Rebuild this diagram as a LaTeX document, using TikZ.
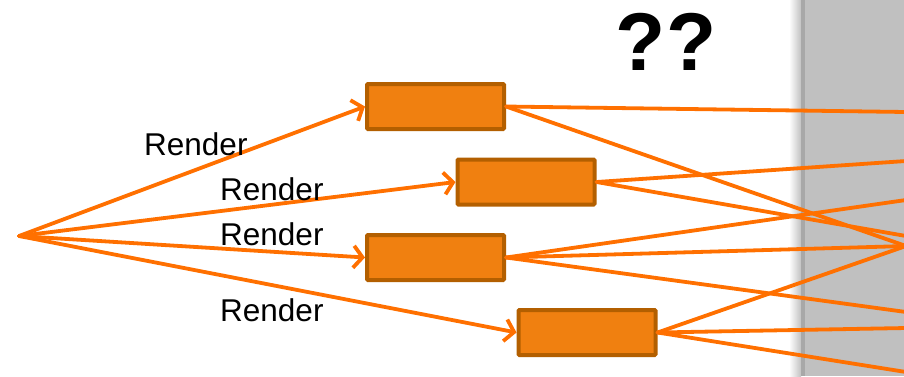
\documentclass[tikz,border=0pt]{standalone}
\usepackage{fontspec}
\setmainfont{Liberation Sans}
\usetikzlibrary{arrows.meta}
\definecolor{boxfill}{HTML}{F08010}
\definecolor{boxedge}{HTML}{B35F00}
\definecolor{flow}{HTML}{FF7000}
\definecolor{panel}{HTML}{C0C0C0}
\definecolor{panelrim}{HTML}{A8A8A8}
\tikzset{
  job/.style={rectangle, draw=boxedge, fill=boxfill, line width=4pt,
    minimum width=137pt, minimum height=45pt, inner sep=0pt, rounded corners=1pt},
  flowline/.style={draw=flow, line width=3.8pt, line cap=round},
  renderarrow/.style={flowline, -{Straight Barb[length=9pt,width=22pt,line width=3.8pt]}},
  lbl/.style={font=\fontsize{31.5}{36}\selectfont, inner sep=0pt, anchor=base west},
}
\begin{document}
\begin{tikzpicture}[x=1pt, y=-1pt]
  \useasboundingbox (0,0) rectangle (904,376);
  % grey panel on the right, with a soft shadow along its left edge
  \shade[left color=white, right color=panelrim!70] (789,0) rectangle (801,376);
  \fill[panelrim] (801,0) rectangle (805,376);
  \fill[panel] (805,0) rectangle (904,376);

  % source point and jobs
  \coordinate (src) at (19,236);
  \node[job] (j1) at (435.5,106.5) {};
  \node[job] (j2) at (526,182) {};
  \node[job] (j3) at (435.5,257.5) {};
  \node[job] (j4) at (587,332.5) {};

  % outputs leaving through the right edge
  \coordinate (o1) at (906,112);
  \coordinate (o2) at (906,161);
  \coordinate (o3) at (906,200);
  \coordinate (o4) at (906,236);
  \coordinate (o5) at (906,246);
  \coordinate (o6) at (906,312);
  \coordinate (o7) at (906,328);
  \coordinate (o8) at (906,372);

  % render arrows
  \draw[renderarrow] (src) -- (j1.west);
  \draw[renderarrow] (src) -- (j2.west);
  \draw[renderarrow] (src) -- (j3.west);
  \draw[renderarrow] (src) -- (j4.west);

  % job outputs
  \draw[flowline] (j1.east) -- (o1);
  \draw[flowline] (j1.east) -- (o5);
  \draw[flowline] (j2.east) -- (o2);
  \draw[flowline] (j2.east) -- (o4);
  \draw[flowline] (j3.east) -- (o3);
  \draw[flowline] (j3.east) -- (o5);
  \draw[flowline] (j3.east) -- (o6);
  \draw[flowline] (j4.east) -- (o5);
  \draw[flowline] (j4.east) -- (o7);
  \draw[flowline] (j4.east) -- (o8);

  % labels
  \node[lbl] (l1) at (144,155) {Render};
  \node[lbl] (l2) at (220,200) {Render};
  \node[lbl] (l3) at (220,245) {Render};
  \node[lbl] (l4) at (220,321) {Render};
  \node[font=\fontsize{82}{92}\selectfont\bfseries, inner sep=0pt, anchor=base] (q) at (666,70) {??};
\end{tikzpicture}
\end{document}
